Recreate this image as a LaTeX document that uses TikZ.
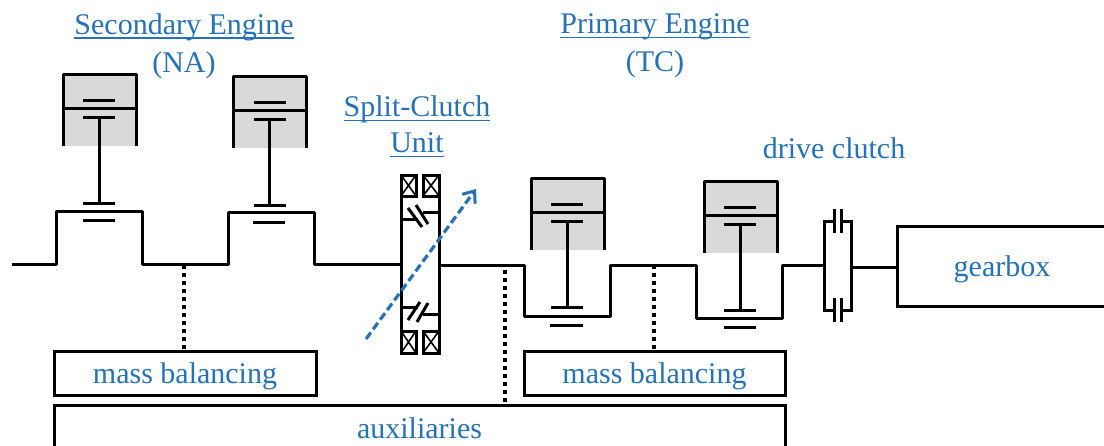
\documentclass[tikz,border=0pt]{standalone}
\usepackage{fontspec}
\setmainfont{Liberation Serif}
\usetikzlibrary{arrows.meta}
\definecolor{lbl}{HTML}{2672B8}
\definecolor{cyl}{HTML}{D9D9D9}
\newsavebox{\ulbox}
\newcommand{\ulx}[1]{\sbox{\ulbox}{#1}\rlap{\rule[-4.5pt]{\wd\ulbox}{1.5pt}}\usebox{\ulbox}}
\tikzset{
  lab/.style={text=lbl,font=\fontsize{30}{33}\selectfont,inner sep=0pt,align=center,anchor=center},
  sys/.style={draw=black,line width=3pt,line join=miter},
  bar/.style={draw=black,line width=3pt},
  wall/.style={draw=black,line width=3pt,line cap=round,line join=round},
  shaft/.style={draw=black,line width=3pt,line join=round},
  dots/.style={draw=black,line width=3.6pt,dash pattern=on 3.6pt off 4.4pt},
  boxn/.style={draw=black,line width=3pt,fill=white,inner sep=0pt,text=lbl,font=\fontsize{30}{33}\selectfont},
  bearing/.style={draw=black,line width=3pt,fill=white},
  pist/.pic={
    \fill[cyl] (0,0) rectangle (73,72);
    \draw[wall,line cap=butt] (0,72) -- (0,0) -- (73,0) -- (73,72);
    \draw[sys] (0,34) -- (73,34);
    \draw[bar] (20,26) -- (52,26);
    \draw[bar] (20,43) -- (52,43);
    \draw[sys] (36,43) -- (36,129);
    \draw[bar] (20,129) -- (52,129);
  }
}
\begin{document}
\begin{tikzpicture}[x=1pt,y=-1pt]
\useasboundingbox (0,0) rectangle (1104,445);
\clip (0,0) rectangle (1104,445);
\fill[white] (0,0) rectangle (1104,445);

% pistons
\pic at (63,74) {pist};
\pic at (233.5,76) {pist};
\pic at (531,178) {pist};
\pic at (704,181) {pist};

% boxes
\node[boxn,minimum width=262pt,minimum height=44pt] (mb1) at (185,373) {\raisebox{-10pt}[0pt][0pt]{mass balancing}};
\node[boxn,minimum width=261pt,minimum height=44pt] (mb2) at (654.5,373) {\raisebox{-10pt}[0pt][0pt]{mass balancing}};
\node[boxn,minimum width=731pt,minimum height=46pt] (aux) at (419.5,428) {auxiliaries};
\node[boxn,minimum width=210pt,minimum height=80pt] (gb) at (1002,266) {\raisebox{-10pt}[0pt][0pt]{gearbox}};

% crank journals below the pins
\draw[bar] (83,220) -- (115,220);
\draw[bar] (253,222) -- (285,222);
\draw[bar] (550,325) -- (583,325);
\draw[bar] (724,327) -- (756,327);

% clutch unit
\coordinate (cul) at (401,264);
\coordinate (cur) at (439,265);
\draw[wall,line cap=butt] (401,175) -- (401,353);
\draw[wall,line cap=butt] (439,175) -- (439,353);
\foreach \nm/\xa/\xb/\ya/\yb in {a/401/416/175/196,b/423/439/175/196,c/401/416/331/353,d/423/439/331/353}{
  \draw[bearing] (\xa,\ya) rectangle (\xb,\yb);
  \draw[black,line width=1.6pt] (\xa,\ya) -- (\xb,\yb) (\xa,\yb) -- (\xb,\ya);
}
\draw[sys] (401,219) -- (418,219);
\draw[sys] (439,212) -- (423,212);
\draw[sys] (408,208) -- (422,227);
\draw[sys] (416,205) -- (428,224);
\draw[sys] (401,307) -- (418,307);
\draw[sys] (439,314) -- (423,314);
\draw[sys] (408,320) -- (420,302);
\draw[sys] (417,322) -- (428,303);

% crankshaft
\draw[shaft] (12,264) -- (56,264) -- (56,211) -- (142,211) -- (142,264) -- (228,264) -- (228,212) -- (314,212) -- (314,264) -- (cul);
\draw[shaft] (cur) -- (524,265) -- (524,316) -- (610,316) -- (610,265) -- (696,265) -- (696,318) -- (782,318) -- (782,265) -- (824,265);

% drive clutch
\draw[sys] (834,221) -- (824,221) -- (824,310) -- (834,310);
\draw[sys] (841,221) -- (851,221) -- (851,310) -- (841,310);
\draw[bar] (834,209) -- (834,233);
\draw[bar] (841,209) -- (841,233);
\draw[bar] (834,298) -- (834,322);
\draw[bar] (841,298) -- (841,322);
\draw[shaft] (851,267) -- (gb.west |- 0,267);

% dotted links
\draw[dots] (184,265) -- (mb1.north -| 184,0);
\draw[dots] (654,265) -- (mb2.north -| 654,0);
\draw[dots] (505,270) -- (aux.north -| 505,0);

% adjustable arrow
\coordinate (as) at (366,339);
\coordinate (ae) at (476,189);
\draw[lbl,line width=3.2pt,dash pattern=on 8pt off 4pt,-{Straight Barb[length=10pt,width=16pt,line width=3pt]}] (as) -- (ae);

% labels
\node[lab] (t1) at (184,46) {\ulx{Secondary Engine}\\[5pt](NA)};
\node[lab] (t2) at (655,46) {\ulx{Primary Engine}\\[5pt](TC)};
\node[lab] (t3) at (417,126.5) {\ulx{Split-Clutch}\\[3pt]\ulx{Unit}};
\node[lab] (t4) at (834,148) {drive clutch};
\end{tikzpicture}
\end{document}
